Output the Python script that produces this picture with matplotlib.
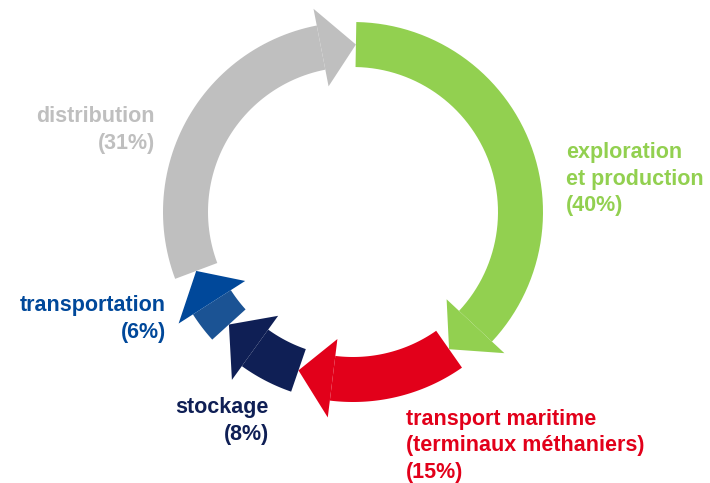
import numpy as np
import matplotlib.pyplot as plt
from matplotlib.patches import Polygon

plt.rcParams['font.family'] = ['Liberation Sans', 'DejaVu Sans']

# data
labels = ['exploration\net production\n(40%)',
          'transport maritime\n(terminaux méthaniers)\n(15%)',
          'stockage\n(8%)',
          'transportation\n(6%)',
          'distribution\n(31%)']
shares = [40, 15, 8, 6, 31]
head_colors = ['#92D050', '#E2001A', '#0F1F55', '#00489A', '#BFBFBF']
body_colors = ['#92D050', '#E2001A', '#0F1F55', '#1B5394', '#BFBFBF']

# layout (pixel coords, y down)
cx, cy = 353, 212
r_in, r_out = 145, 190
hr_in, hr_out = 128, 207
head_deg = 12
start = 89
label_pos = [(566, 179, 'left'), (406, 446, 'left'), (269, 421, 'right'),
             (166, 319, 'right'), (155, 130, 'right')]


def pt(r, a):
    a = np.radians(a)
    return cx + r * np.cos(a), cy - r * np.sin(a)


fig = plt.figure(figsize=(7.1, 4.83), dpi=100)
ax = fig.add_axes([0, 0, 1, 1])
ax.set_xlim(0, 710)
ax.set_ylim(483, 0)
ax.set_aspect('equal')
ax.axis('off')

a0 = start
for i, p in enumerate(shares):
    a1 = a0 - 360 * p / 100.0
    ab = a1 + head_deg
    t = np.linspace(a0, ab, 60)
    outer = [pt(r_out, a) for a in t]
    inner = [pt(r_in, a) for a in t[::-1]]
    ax.add_patch(Polygon(outer + inner, closed=True, fc=body_colors[i], ec='none'))
    head = [pt(hr_in, ab), pt(hr_out, ab), pt((r_in + r_out) / 2, a1)]
    ax.add_patch(Polygon(head, closed=True, fc=head_colors[i], ec='none'))
    x, y, ha = label_pos[i]
    ax.text(x, y, labels[i], color=head_colors[i], fontsize=15.5, fontweight='bold',
            ha=ha, va='center', multialignment=ha, linespacing=1.36)
    a0 = a1

fig.savefig('out.png', dpi=100)
